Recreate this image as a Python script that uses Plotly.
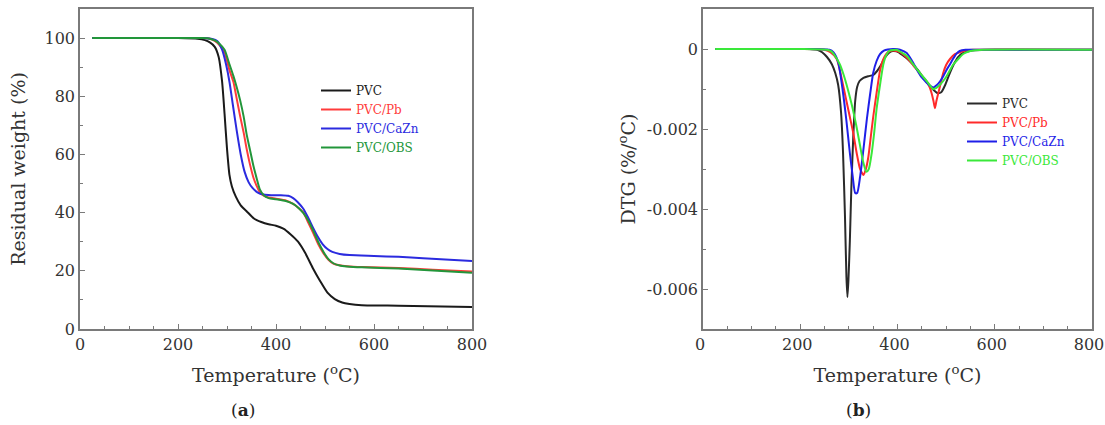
import plotly.graph_objects as go

# ---------------- TGA data (Residual weight %) ----------------
tga_pvc_t = [25, 100, 200, 240, 255, 265, 275, 283, 290, 295, 300, 305, 310, 318, 328, 340, 355, 370,
             385, 400, 415, 430, 445, 460, 475, 490, 505, 520, 535, 550, 575, 650, 800]
tga_pvc_w = [100, 100, 100, 99.8, 99.3, 98.5, 97, 93.5, 85, 74, 62, 53, 49, 45.5, 42.5, 40.5, 38, 36.8,
             36, 35.5, 34.5, 32.5, 30, 26, 21, 16.5, 12.5, 10.3, 9.1, 8.6, 8.2, 8.0, 7.6]

tga_pb_t = [25, 100, 200, 250, 265, 275, 285, 295, 305, 313, 320, 327, 334, 340, 347, 354, 361, 367, 375,
            385, 400, 420, 435, 446, 456, 466, 476, 486, 497, 507, 517, 530, 545, 575, 650, 720, 800]
tga_pb_w = [100, 100, 100, 100, 99.8, 99, 97.5, 95, 89, 85, 79, 73, 67.5, 62, 56.5, 52, 49, 47, 45.8,
            45.2, 44.8, 44.2, 43, 41.6, 40, 36.5, 33, 29.2, 26, 23.8, 22.5, 21.9, 21.6, 21.3, 21, 20.4, 19.8]

tga_cazn_t = [25, 100, 200, 250, 270, 280, 290, 298, 305, 312, 320, 328, 336, 344, 352, 362, 375, 390,
              410, 425, 435, 445, 455, 465, 475, 485, 495, 505, 515, 530, 550, 600, 650, 700, 800]
tga_cazn_w = [100, 100, 100, 100, 99.7, 99, 96, 91, 85, 77, 68, 60, 54, 50.5, 48.5, 47, 46.2, 46,
              46, 45.8, 45, 43.5, 41.5, 38.5, 35, 31.8, 29.2, 27.5, 26.5, 25.8, 25.4, 25.1, 24.8, 24.3, 23.4]

tga_obs_t = tga_pb_t
tga_obs_w = [100, 100, 100, 100, 99.8, 99.2, 98, 96, 91, 87, 83, 78.5, 73, 67, 61.5, 56, 51.5, 48, 46,
             45, 44.6, 44, 43, 41.6, 39.8, 37.2, 33.8, 30, 26.5, 24, 22.6, 21.8, 21.5, 21.2, 20.8, 20.1, 19.3]

# ---------------- DTG data (%/°C) ----------------
dtg_pvc_t = [25, 150, 220, 235, 245, 255, 265, 272, 278, 284, 288, 292, 295, 297, 299, 302, 305, 309, 313,
             317, 322, 330, 340, 350, 358, 366, 374, 382, 390, 398, 410, 425, 440, 455, 465, 474, 482, 490,
             498, 506, 515, 525, 535, 548, 560, 600, 700, 800]
dtg_pvc_v = [0, 0, 0, -0.00002, -0.00008, -0.0002, -0.00038, -0.0006, -0.0009, -0.0016, -0.0026, -0.0042,
             -0.0057, -0.0062, -0.0058, -0.0048, -0.0035, -0.0022, -0.0013, -0.00095, -0.0008, -0.00072,
             -0.00068, -0.00065, -0.00055, -0.0004, -0.00022, -0.0001, -0.00005, -0.00006, -0.00015, -0.0003,
             -0.0005, -0.00075, -0.0009, -0.00102, -0.0011, -0.00108, -0.0009, -0.00065, -0.0004, -0.0002,
             -0.0001, -0.00005, -0.00003, -0.00002, -0.00002, -0.00002]

dtg_pb_t = [25, 200, 250, 262, 275, 288, 295, 302, 309, 316, 323, 330, 335, 340, 345, 350, 357, 364, 370,
            377, 384, 391, 405, 418, 432, 445, 459, 466, 470, 474, 477, 480, 484, 489, 494, 500, 508, 518,
            528, 540, 555, 800]
dtg_pb_v = [0, 0, -0.00002, -0.00008, -0.00025, -0.0009, -0.0013, -0.0017, -0.0021, -0.0026, -0.003,
            -0.00315, -0.003, -0.0027, -0.0022, -0.0017, -0.0011, -0.00054, -0.00028, -0.00012, -0.00005,
            -0.00004, -0.00008, -0.0002, -0.0004, -0.0006, -0.0008, -0.00095, -0.0011, -0.0013, -0.00148,
            -0.0013, -0.0011, -0.00085, -0.0006, -0.0004, -0.00025, -0.00013, -0.00008, -0.00004, -0.00002,
            -0.00002]

dtg_cazn_t = [25, 200, 260, 268, 278, 288, 295, 302, 308, 313, 317, 323, 330, 337, 344, 350, 357, 364, 372,
              380, 395, 405, 419, 430, 439, 449, 459, 467, 474, 481, 488, 495, 502, 508, 514, 521, 528, 540,
              560, 800]
dtg_cazn_v = [0, 0, -0.00002, -0.00008, -0.00033, -0.0011, -0.0018, -0.0026, -0.0032, -0.0036, -0.0036,
              -0.0032, -0.0025, -0.00175, -0.0011, -0.0006, -0.0003, -0.00013, -0.00004, -0.00001, 0,
              -0.00002, -0.0001, -0.0003, -0.0005, -0.0007, -0.00083, -0.00092, -0.00096, -0.0009, -0.0008,
              -0.00066, -0.0005, -0.00038, -0.00025, -0.00012, -0.00005, -0.00002, -0.00002, -0.00002]

dtg_obs_t = [25, 200, 255, 264, 272, 281, 288, 295, 302, 308, 315, 322, 329, 336, 341, 347, 352, 357, 364,
             371, 377, 384, 398, 410, 419, 432, 446, 460, 473, 480, 487, 494, 500, 507, 514, 525, 535, 545,
             555, 576, 800]
dtg_obs_v = [0, 0, -0.00002, -0.00006, -0.00018, -0.000375, -0.0006, -0.00088, -0.0012, -0.0015, -0.0019,
             -0.00235, -0.0028, -0.00307, -0.003, -0.0026, -0.0021, -0.0015, -0.0009, -0.000375, -0.00015,
             -0.00004, -0.00002, -0.0001, -0.00017, -0.00038, -0.0006, -0.0008, -0.001, -0.00097, -0.0009,
             -0.0008, -0.0007, -0.00055, -0.0004, -0.00025, -0.000125, -0.00007, -0.00004, -0.00002,
             -0.00002]

series_names = ["PVC", "PVC/Pb", "PVC/CaZn", "PVC/OBS"]
colors_a = ["#1a1a1a", "#ff3b3b", "#2b2bdf", "#22963a"]
colors_b = ["#2a2a2a", "#ff2a2a", "#1f1fe8", "#3ae83a"]

tga_x = [tga_pvc_t, tga_pb_t, tga_cazn_t, tga_obs_t]
tga_y = [tga_pvc_w, tga_pb_w, tga_cazn_w, tga_obs_w]
dtg_x = [dtg_pvc_t, dtg_pb_t, dtg_cazn_t, dtg_obs_t]
dtg_y = [dtg_pvc_v, dtg_pb_v, dtg_cazn_v, dtg_obs_v]

x_ticks = [0, 200, 400, 600, 800]
tga_yticks = [0, 20, 40, 60, 80, 100]
dtg_yticks = [0, -0.002, -0.004, -0.006]
dtg_yticktext = ["0", "-0.002", "-0.004", "-0.006"]

SERIF = "DejaVu Serif"
W, H = 1105, 425
fig = go.Figure()

for i, name in enumerate(series_names):
    fig.add_trace(go.Scatter(
        x=tga_x[i], y=tga_y[i], mode="lines",
        line=dict(color=colors_a[i], width=2, shape="spline", smoothing=0.6),
        name=f"<span style='color:{colors_a[i]}'>{name}</span>",
        xaxis="x", yaxis="y", legend="legend"))

for i, name in enumerate(series_names):
    fig.add_trace(go.Scatter(
        x=dtg_x[i], y=dtg_y[i], mode="lines",
        line=dict(color=colors_b[i], width=2, shape="spline", smoothing=0.6),
        name=f"<span style='color:{colors_b[i]}'>{name}</span>",
        xaxis="x2", yaxis="y2", legend="legend2"))

frame = "#7a7a7a"
tickfont = dict(family=SERIF, size=16, color="#333")
titlefont = dict(family=SERIF, size=19, color="#333")

def xax(domain, anchor, shift=0):
    return dict(domain=domain, anchor=anchor, range=[0, 800], tickmode="array", tickvals=x_ticks,
                ticks="inside", ticklen=5, tickwidth=1.2, tickcolor=frame,
                minor=dict(ticks="inside", ticklen=3, tickcolor=frame, tickmode="linear", tick0=0, dtick=50),
                showline=True, linecolor=frame, linewidth=1.5, mirror=True, showgrid=False, zeroline=False,
                tickfont=tickfont, automargin=False, ticklabeloverflow="allow", ticklabelshift=shift,
                title=dict(text="Temperature (<sup>o</sup>C)", font=titlefont, standoff=16))

y_dom = [(H - 329) / H, (H - 9) / H]
fig.update_layout(
    width=W, height=H, template="none",
    paper_bgcolor="white", plot_bgcolor="white",
    margin=dict(l=0, r=0, t=0, b=0),
    showlegend=True,
    xaxis=xax([80 / W, 472 / W], "y"),
    xaxis2=xax([703 / W, 1092 / W], "y2", shift=-3),
    yaxis=dict(domain=y_dom, anchor="x", range=[0, 110], tickmode="array", tickvals=tga_yticks,
               ticks="inside", ticklen=5, tickwidth=1.2, tickcolor=frame,
               minor=dict(ticks="inside", ticklen=3, tickcolor=frame, tickmode="linear", tick0=0, dtick=10),
               showline=True, linecolor=frame, linewidth=1.5, mirror=True, showgrid=False, zeroline=False,
               tickfont=tickfont, automargin=False,
               title=dict(text="Residual weight (%)", font=titlefont, standoff=14)),
    yaxis2=dict(domain=y_dom, anchor="x2", range=[-0.007, 0.001], tickmode="array", tickvals=dtg_yticks,
                ticktext=dtg_yticktext,
                ticks="inside", ticklen=5, tickwidth=1.2, tickcolor=frame,
                minor=dict(ticks="inside", ticklen=3, tickcolor=frame, tickmode="linear", tick0=0, dtick=0.001),
                showline=True, linecolor=frame, linewidth=1.5, mirror=True, showgrid=False, zeroline=False,
                tickfont=tickfont, automargin=False,
                title=dict(text="DTG (%/<sup>o</sup>C)", font=titlefont, standoff=6)),
    legend=dict(x=316 / W, y=1 - 76 / H, xanchor="left", yanchor="top", bgcolor="rgba(0,0,0,0)",
                font=dict(family=SERIF, size=12), tracegroupgap=0, itemwidth=30),
    legend2=dict(x=962 / W, y=1 - 89 / H, xanchor="left", yanchor="top", bgcolor="rgba(0,0,0,0)",
                 font=dict(family=SERIF, size=12), tracegroupgap=0, itemwidth=30),
    annotations=[
        dict(text="(<b>a</b>)", x=243 / W, y=1 - 410 / H, xref="paper", yref="paper", showarrow=False,
             xanchor="center", yanchor="middle", font=dict(family=SERIF, size=17, color="#222")),
        dict(text="(<b>b</b>)", x=858 / W, y=1 - 410 / H, xref="paper", yref="paper", showarrow=False,
             xanchor="center", yanchor="middle", font=dict(family=SERIF, size=17, color="#222")),
    ],
)

fig.write_html("out.html", config={"displayModeBar": False},
               post_script="document.body.style.margin='0px';")
